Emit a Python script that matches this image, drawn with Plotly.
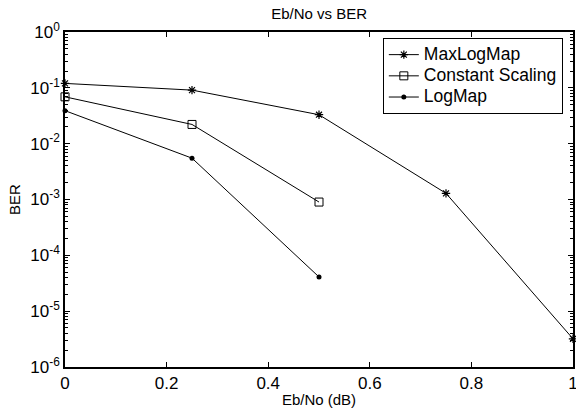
import plotly.graph_objects as go

ebno = [0, 0.25, 0.5, 0.75, 1.0]
maxlogmap = [0.12, 0.091, 0.033, 1.29e-3, 3.2e-6]
ebno_cs = [0, 0.25, 0.5]
constant_scaling = [0.069, 0.0221, 9.0e-4]
ebno_lm = [0, 0.25, 0.5]
logmap = [0.039, 5.5e-3, 4.1e-5]
series_names = ["MaxLogMap", "Constant Scaling", "LogMap"]

x_ticks = [0, 0.2, 0.4, 0.6, 0.8, 1]
x_tick_labels = ["0", "0.2", "0.4", "0.6", "0.8", "1"]
y_ticks = [1e-6, 1e-5, 1e-4, 1e-3, 1e-2, 1e-1, 1e0]
y_tick_labels = ["10<sup>-6</sup>", "10<sup>-5</sup>", "10<sup>-4</sup>", "10<sup>-3</sup>",
                 "10<sup>-2</sup>", "10<sup>-1</sup>", "10<sup>0</sup>"]
minor_y = [m * 10 ** e for e in range(-6, 0) for m in range(2, 10)]

FONT = "Liberation Sans, Arial, Helvetica, sans-serif"


def legend_label(s):
    return '<span style="font-size:17.5px">' + s + '</span>'


fig = go.Figure()
fig.add_trace(go.Scatter(x=ebno, y=maxlogmap, name=legend_label(series_names[0]), mode="lines+markers",
                         cliponaxis=False,
                         line=dict(color="black", width=1),
                         marker=dict(symbol="asterisk-open", size=7, color="black",
                                     line=dict(color="black", width=1.2))))
fig.add_trace(go.Scatter(x=ebno_cs, y=constant_scaling, name=legend_label(series_names[1]), mode="lines+markers",
                         cliponaxis=False,
                         line=dict(color="black", width=1),
                         marker=dict(symbol="square-open", size=8, color="black",
                                     line=dict(color="black", width=1))))
fig.add_trace(go.Scatter(x=ebno_lm, y=logmap, name=legend_label(series_names[2]), mode="lines+markers",
                         cliponaxis=False,
                         line=dict(color="black", width=1),
                         marker=dict(symbol="circle", size=5, color="black")))

fig.update_layout(
    width=576, height=410,
    margin=dict(l=65, r=3, t=32, b=43),
    paper_bgcolor="white", plot_bgcolor="white",
    font=dict(family=FONT, color="black", size=14),
    title=dict(text="Eb/No vs BER", x=0.554, xanchor="center", y=0.966, yanchor="middle",
               font=dict(size=15, family=FONT)),
    legend=dict(x=0.980, y=0.982, xanchor="right", yanchor="top",
                bgcolor="white", bordercolor="black", borderwidth=1,
                font=dict(size=14, family=FONT), tracegroupgap=0,
                itemwidth=30),
    showlegend=True,
)
fig.update_xaxes(range=[0, 1], tickmode="array", tickvals=x_ticks, ticktext=x_tick_labels,
                 ticks="inside", ticklen=5, tickcolor="black", mirror="allticks",
                 showline=True, linecolor="black", linewidth=1.5, showgrid=False, zeroline=False,
                 tickfont=dict(size=17), automargin=False, ticklabeloverflow="allow",
                 title=dict(text="Eb/No (dB)", font=dict(size=15), standoff=2))
fig.update_yaxes(type="log", range=[-6, 0], tickmode="array", tickvals=y_ticks, ticktext=y_tick_labels,
                 ticks="inside", ticklen=5, tickcolor="black", mirror="allticks",
                 showline=True, linecolor="black", linewidth=1.5, showgrid=False, zeroline=False,
                 tickfont=dict(size=17), automargin=False, ticklabeloverflow="allow",
                 minor=dict(tickmode="array", tickvals=minor_y, ticks="inside", ticklen=3,
                            tickcolor="black", showgrid=False),
                 title=dict(text="BER", font=dict(size=15), standoff=6))

fig.write_html("out.html", config={"displayModeBar": False},
               post_script="document.body.style.margin='0';")
